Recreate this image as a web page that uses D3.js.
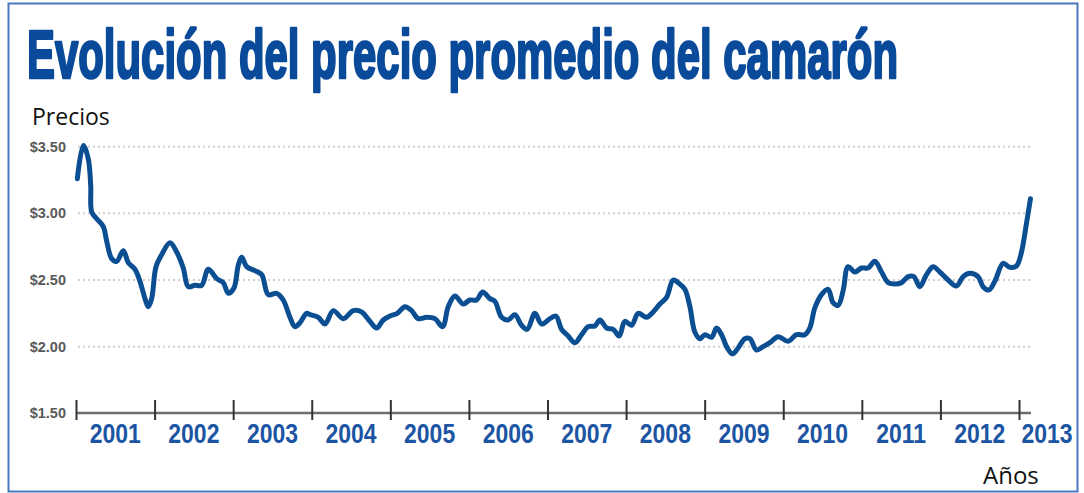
<!DOCTYPE html>
<html lang="es">
<head>
<meta charset="utf-8">
<title>Evolución del precio promedio del camarón</title>
<script src="https://cdn.jsdelivr.net/npm/d3@7"></script>
<style>
  html, body { margin: 0; padding: 0; background: #ffffff; }
  svg { display: block; }
</style>
</head>
<body>
<svg id="chart" width="1084" height="493"></svg>
<script>
// Precio promedio del camarón (USD por libra), lecturas por fecha decimal
const anios = [
  2001.017, 2001.093, 2001.156, 2001.187, 2001.200, 2001.263, 2001.347, 2001.391,
  2001.454, 2001.518, 2001.602, 2001.665, 2001.751, 2001.814, 2001.878, 2001.920,
  2001.963, 2002.018, 2002.090, 2002.196, 2002.281, 2002.365, 2002.429, 2002.514,
  2002.599, 2002.683, 2002.790, 2002.874, 2002.938, 2003.010, 2003.065, 2003.108,
  2003.172, 2003.277, 2003.363, 2003.447, 2003.553, 2003.637, 2003.723, 2003.786,
  2003.850, 2003.935, 2003.977, 2004.083, 2004.168, 2004.274, 2004.401, 2004.528,
  2004.635, 2004.740, 2004.826, 2004.910, 2004.995, 2005.088, 2005.186, 2005.271,
  2005.355, 2005.462, 2005.567, 2005.665, 2005.737, 2005.822, 2005.927, 2006.013,
  2006.098, 2006.174, 2006.267, 2006.331, 2006.416, 2006.500, 2006.585, 2006.670,
  2006.742, 2006.840, 2006.925, 2007.031, 2007.107, 2007.179, 2007.263, 2007.349,
  2007.434, 2007.518, 2007.603, 2007.667, 2007.752, 2007.836, 2007.912, 2007.985,
  2008.070, 2008.154, 2008.261, 2008.345, 2008.430, 2008.515, 2008.599, 2008.663,
  2008.748, 2008.812, 2008.875, 2008.939, 2009.003, 2009.088, 2009.151, 2009.215,
  2009.279, 2009.355, 2009.426, 2009.511, 2009.575, 2009.660, 2009.744, 2009.829,
  2009.935, 2010.062, 2010.169, 2010.275, 2010.338, 2010.402, 2010.487, 2010.571,
  2010.634, 2010.698, 2010.762, 2010.825, 2010.911, 2010.996, 2011.080, 2011.165,
  2011.251, 2011.335, 2011.420, 2011.505, 2011.589, 2011.662, 2011.738, 2011.823,
  2011.907, 2011.992, 2012.098, 2012.205, 2012.289, 2012.374, 2012.479, 2012.543,
  2012.616, 2012.692, 2012.798, 2012.883, 2012.968, 2013.032, 2013.095, 2013.146
];
const precios = [
  3.26, 3.51, 3.41, 3.21, 3.01, 2.96, 2.90, 2.79,
  2.66, 2.64, 2.72, 2.63, 2.58, 2.49, 2.36, 2.30,
  2.36, 2.60, 2.69, 2.78, 2.71, 2.59, 2.45, 2.46,
  2.46, 2.58, 2.51, 2.48, 2.40, 2.44, 2.61, 2.67,
  2.60, 2.57, 2.54, 2.39, 2.40, 2.35, 2.22, 2.15,
  2.18, 2.25, 2.24, 2.22, 2.17, 2.27, 2.21, 2.27,
  2.26, 2.19, 2.14, 2.20, 2.23, 2.25, 2.30, 2.27,
  2.21, 2.22, 2.21, 2.15, 2.30, 2.38, 2.32, 2.35,
  2.35, 2.41, 2.36, 2.34, 2.22, 2.20, 2.24, 2.16,
  2.13, 2.25, 2.17, 2.21, 2.23, 2.13, 2.08, 2.03,
  2.09, 2.15, 2.155, 2.20, 2.14, 2.13, 2.08, 2.19,
  2.16, 2.25, 2.22, 2.26, 2.32, 2.37, 2.50, 2.48,
  2.43, 2.30, 2.11, 2.06, 2.09, 2.07, 2.14, 2.09,
  2.00, 1.945, 1.99, 2.06, 2.06, 1.975, 2.00, 2.03,
  2.075, 2.04, 2.09, 2.09, 2.14, 2.29, 2.39, 2.43,
  2.33, 2.31, 2.42, 2.60, 2.56, 2.59, 2.59, 2.64,
  2.56, 2.48, 2.47, 2.48, 2.525, 2.525, 2.45, 2.54,
  2.60, 2.56, 2.50, 2.455, 2.525, 2.55, 2.525, 2.45,
  2.425, 2.49, 2.625, 2.595, 2.605, 2.71, 2.925, 3.11
];
const etiquetasAnio = ["2001", "2002", "2003", "2004", "2005", "2006", "2007",
                       "2008", "2009", "2010", "2011", "2012", "2013"];
const valoresEjeY = [1.5, 2.0, 2.5, 3.0, 3.5];

const titulo = "Evolución del precio promedio del camarón";
const tituloEjeY = "Precios";
const tituloEjeX = "Años";

const svg = d3.select("#chart");

// Marco del gráfico
svg.append("rect")
  .attr("x", 8.5).attr("y", 3.5)
  .attr("width", 1069).attr("height", 488)
  .attr("fill", "none")
  .attr("stroke", "#4a78bd")
  .attr("stroke-width", 2);

// Título: tipografía estrecha y alargada en vertical
svg.append("text")
  .attr("transform", "translate(27,78) scale(1,1.5)")
  .attr("textLength", 871)
  .attr("lengthAdjust", "spacingAndGlyphs")
  .attr("font-family", "'Liberation Sans Narrow', 'Liberation Sans', Arial, sans-serif")
  .attr("font-weight", "bold")
  .attr("font-size", 46)
  .attr("fill", "#0a4a9a")
  .attr("stroke", "#0a4a9a")
  .attr("stroke-width", 1.8)
  .attr("stroke-linejoin", "round")
  .text(titulo);

// Escalas
const x = d3.scaleLinear().domain([2001, 2013]).range([76, 1019]);
const y = d3.scaleLinear().domain([1.5, 3.5]).range([413.3, 146.7]);

// Líneas de cuadrícula punteadas
svg.append("g")
  .selectAll("line")
  .data(valoresEjeY.filter(v => v > 1.5))
  .join("line")
  .attr("x1", 78).attr("x2", 1032)
  .attr("y1", d => y(d)).attr("y2", d => y(d))
  .attr("stroke", "#cfcfcf")
  .attr("stroke-width", 2)
  .attr("stroke-dasharray", "2,3");

// Eje Y: solo etiquetas
const ejeY = svg.append("g")
  .attr("transform", "translate(66,0)")
  .call(d3.axisLeft(y).tickValues(valoresEjeY).tickSize(0).tickPadding(0)
          .tickFormat(d3.format("$.2f")));
ejeY.select(".domain").remove();
ejeY.selectAll("text")
  .attr("font-family", "'Liberation Sans', Arial, sans-serif")
  .attr("font-size", 14.5)
  .attr("font-weight", "bold")
  .attr("fill", "#5a5a5a");

// Eje X: línea base con marcas por año
const ejeX = svg.append("g")
  .attr("transform", "translate(0,413)")
  .call(d3.axisBottom(x).tickValues(d3.range(2001, 2014)).tickFormat(""));
ejeX.select(".domain")
  .attr("d", `M${x(2001)},0H1031`)
  .attr("stroke", "#6e6e6e")
  .attr("stroke-width", 2.5);
ejeX.selectAll(".tick line")
  .attr("y1", -13).attr("y2", 7)
  .attr("stroke", "#333")
  .attr("stroke-width", 2);

// Etiquetas de año centradas en cada intervalo
svg.append("g")
  .selectAll("text")
  .data(etiquetasAnio)
  .join("text")
  .attr("transform", (d, i) => {
    const cx = i < 12 ? x(+d + 0.5) : x(+d) + 28;
    return `translate(${cx},443) scale(1,1.18)`;
  })
  .attr("text-anchor", "middle")
  .attr("font-family", "'Liberation Sans', Arial, sans-serif")
  .attr("font-weight", "bold")
  .attr("font-size", 23)
  .attr("fill", "#1c55a3")
  .text(d => d);

// Serie de precios
const datos = anios.map((a, i) => ({ a, p: precios[i] }));
const linea = d3.line()
  .x(d => x(d.a))
  .y(d => y(d.p))
  .curve(d3.curveCatmullRom.alpha(0.5));

svg.append("path")
  .datum(datos)
  .attr("d", linea)
  .attr("fill", "none")
  .attr("stroke", "#0c4e92")
  .attr("stroke-width", 5)
  .attr("stroke-linejoin", "round")
  .attr("stroke-linecap", "round");

// Títulos de los ejes
svg.append("text")
  .attr("x", 32).attr("y", 125)
  .attr("font-family", "'Open Sans', 'Noto Sans', sans-serif")
  .attr("font-size", 23)
  .attr("fill", "#111")
  .text(tituloEjeY);

svg.append("text")
  .attr("x", 983).attr("y", 484)
  .attr("font-family", "'Open Sans', 'Noto Sans', sans-serif")
  .attr("font-size", 24)
  .attr("fill", "#111")
  .text(tituloEjeX);
</script>
</body>
</html>
